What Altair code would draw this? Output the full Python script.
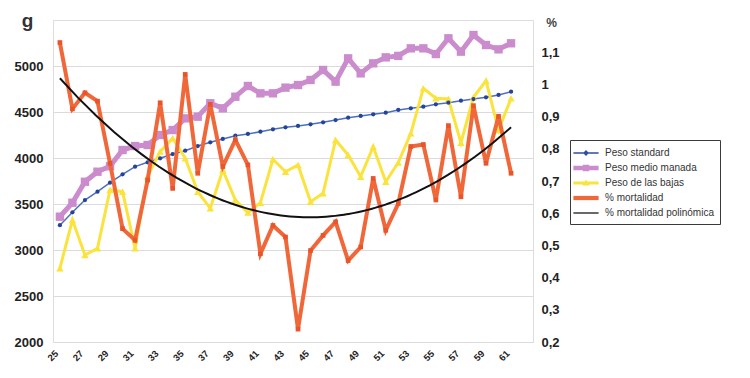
import altair as alt
import pandas as pd

# ---------------- data ----------------
semanas = [25, 26, 27, 28, 29, 30, 31, 32, 33, 34, 35, 36, 37, 38, 39, 40, 41, 42, 43,
           44, 45, 46, 47, 48, 49, 50, 51, 52, 53, 54, 55, 56, 57, 58, 59, 60, 61]

peso_standard = [3270, 3410, 3543, 3634, 3732, 3823, 3906, 3953, 3997, 4043, 4079, 4130,
                 4171, 4207, 4242, 4261, 4286, 4312, 4334, 4348, 4366, 4388, 4413, 4438,
                 4457, 4475, 4492, 4522, 4540, 4558, 4584, 4601, 4623, 4641, 4660, 4685, 4721]

peso_medio = [3362, 3514, 3742, 3851, 3910, 4087, 4130, 4141, 4250, 4304, 4431, 4449,
              4595, 4540, 4666, 4783, 4703, 4703, 4765, 4793, 4848, 4957, 4830, 5083,
              4920, 5029, 5094, 5110, 5192, 5192, 5130, 5301, 5156, 5337, 5228, 5181, 5247]

peso_bajas = [2801, 3326, 2946, 3018, 3652, 3634, 3018, 3800, 4069, 4214, 3997, 3634,
              3453, 3870, 3543, 3406, 3514, 3986, 3851, 3924, 3525, 3616, 4196, 4033,
              3797, 4123, 3742, 3950, 4268, 4757, 4649, 4641, 4166, 4660, 4840, 4304, 4649]

mortalidad = [1.130, 0.924, 0.974, 0.948, 0.755, 0.552, 0.516, 0.703, 0.943, 0.677, 1.031,
              0.724, 0.938, 0.745, 0.828, 0.750, 0.474, 0.562, 0.526, 0.240, 0.484, 0.531,
              0.573, 0.453, 0.495, 0.708, 0.547, 0.630, 0.807, 0.813, 0.641, 0.872, 0.651,
              0.934, 0.755, 0.901, 0.724]

x_ticks = [25, 27, 29, 31, 33, 35, 37, 39, 41, 43, 45, 47, 49, 51, 53, 55, 57, 59, 61]
g_ticks = [2000, 2500, 3000, 3500, 4000, 4500, 5000]
pct_ticks = [0.2, 0.3, 0.4, 0.5, 0.6, 0.7, 0.8, 0.9, 1.0, 1.1]

series = ["Peso standard", "Peso medio manada", "Peso de las bajas",
          "% mortalidad", "% mortalidad polinómica"]
colores = ["#2C4FA3", "#CB8CCD", "#FBE33E", "#F0683A", "#111111"]

# legend symbols: a line with the series' marker
legend_shapes = [
    "M-1.8,-0.1H1.8V0.1H-1.8Z M0,-0.42L0.42,0L0,0.42L-0.42,0Z",
    "M-1.8,-0.32H1.8V0.32H-1.8Z M-0.45,-0.45H0.45V0.45H-0.45Z",
    "M-1.8,-0.2H1.8V0.2H-1.8Z M0,-0.5L0.52,0.36L-0.52,0.36Z",
    "M-1.8,-0.3H1.8V0.3H-1.8Z",
    "M-1.8,-0.09H1.8V0.09H-1.8Z",
]

df_std = pd.DataFrame({"semana": semanas, "valor": peso_standard})
df_med = pd.DataFrame({"semana": semanas, "valor": peso_medio})
df_baj = pd.DataFrame({"semana": semanas, "valor": peso_bajas})
df_mort = pd.DataFrame({"semana": semanas, "mort": mortalidad})
df_leg = pd.DataFrame({"semana": [25] * 5, "valor": [3000] * 5, "serie": series})

FONT = "Liberation Sans"

xenc = alt.X(
    "semana:Q",
    scale=alt.Scale(domain=[24.45, 62.75], nice=False, zero=False),
    axis=alt.Axis(values=x_ticks, labelAngle=315, labelAlign="right", labelBaseline="top",
                  labelOffset=-7, ticks=False, domain=False, grid=False,
                  title=None, labelFontSize=9.5, labelFontWeight="bold", labelColor="#222",
                  labelPadding=6, labelFont=FONT, format="d"),
)

yleft = alt.Y(
    "valor:Q",
    scale=alt.Scale(domain=[2000, 5500], nice=False, zero=False),
    axis=alt.Axis(values=g_ticks, ticks=False, domain=False, grid=True, gridColor="#DBDBDB",
                  gridWidth=1, labelFontSize=13, labelFontWeight="bold", labelColor="#222",
                  labelPadding=10, labelFont=FONT, format="d",
                  title="g", titleAngle=0, titleX=-26, titleY=6, titleAlign="center",
                  titleBaseline="alphabetic", titleFontSize=19, titleFontWeight="bold",
                  titleColor="#333", titleFont=FONT),
)

yright = alt.Y(
    "mort:Q",
    scale=alt.Scale(domain=[0.2, 1.2], nice=False, zero=False),
    axis=alt.Axis(orient="right", values=pct_ticks, ticks=False, domain=False, grid=False,
                  labelFontSize=13, labelFontWeight="bold", labelColor="#222",
                  labelPadding=8, labelFont=FONT,
                  labelExpr="replace(format(datum.value, '.1~f'), '.', ',')",
                  title="%", titleAngle=0, titleX=18, titleY=6, titleAlign="center",
                  titleBaseline="alphabetic", titleFontSize=12, titleFontWeight="bold",
                  titleColor="#444", titleFont=FONT),
)

legend_def = dict(title=None, orient="none", legendX=517, legendY=120,
                  strokeColor="#3A3A3A", fillColor="white", padding=6,
                  symbolSize=196, symbolStrokeWidth=0, symbolOffset=3, labelOffset=12,
                  labelFontSize=10, labelColor="#333", labelFont=FONT, rowPadding=3,
                  labelLimit=300)

# ---------------- left axis series ----------------
std_line = alt.Chart(df_std).mark_line(color="#4E6FC0", strokeWidth=1.5).encode(x=xenc, y=yleft)
std_pts = alt.Chart(df_std).mark_point(filled=True, shape="circle", size=18, color="#23449A", opacity=1).encode(x=xenc, y=yleft)

med_line = alt.Chart(df_med).mark_line(color=colores[1], strokeWidth=5).encode(x=xenc, y=yleft)
med_pts = alt.Chart(df_med).mark_point(filled=True, shape="square", size=70, color=colores[1], opacity=1).encode(x=xenc, y=yleft)

baj_line = alt.Chart(df_baj).mark_line(color=colores[2], strokeWidth=3).encode(x=xenc, y=yleft)
baj_pts = alt.Chart(df_baj).mark_point(filled=True, shape="triangle-up", size=55, color=colores[2], opacity=1).encode(x=xenc, y=yleft)

legend_layer = alt.Chart(df_leg).transform_filter("false").mark_point(filled=True, opacity=1).encode(
    x=xenc, y=yleft,
    color=alt.Color("serie:N", scale=alt.Scale(domain=series, range=colores),
                    legend=alt.Legend(**legend_def)),
    shape=alt.Shape("serie:N", scale=alt.Scale(domain=series, range=legend_shapes),
                    legend=alt.Legend(**legend_def)),
)

left = alt.layer(std_line, med_line, med_pts, baj_line, baj_pts, std_pts, legend_layer)

# ---------------- right axis series ----------------
mort_line = alt.Chart(df_mort).mark_line(color=colores[3], strokeWidth=4).encode(x=xenc, y=yright)
mort_pts = alt.Chart(df_mort).mark_point(filled=True, shape="square", size=22, color="#E8552A", opacity=1).encode(x=xenc, y=yright)
poly = alt.Chart(df_mort).transform_regression(
    "semana", "mort", method="poly", order=2
).mark_line(color=colores[4], strokeWidth=2).encode(x=xenc, y=yright)

right = alt.layer(mort_line, mort_pts, poly)

chart = alt.layer(left, right).resolve_scale(y="independent").properties(
    width=480, height=322,
    autosize=alt.AutoSizeParams(type="none"),
    padding={"left": 45, "top": 12, "right": 205, "bottom": 28},
).configure_view(
    fill="#D3D3D3", stroke="#B7C2CB", strokeWidth=1.5
).configure(background="white")

chart.save("out.html", embed_options={"renderer": "svg", "actions": False})
